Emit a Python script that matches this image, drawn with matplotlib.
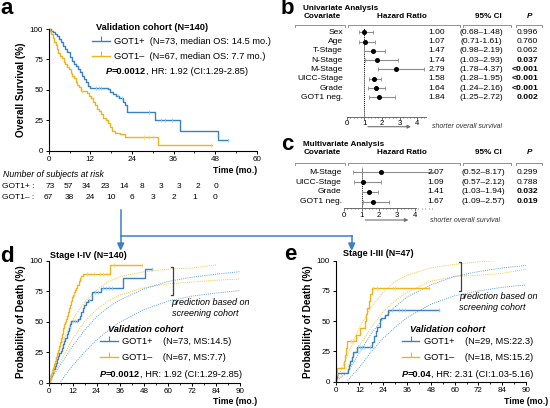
import numpy as np
import matplotlib
matplotlib.use("Agg")
import matplotlib.pyplot as plt
from matplotlib.lines import Line2D
from matplotlib.ticker import MultipleLocator

plt.rcParams['font.family'] = ['Liberation Sans', 'DejaVu Sans']

W, H = 550, 408
BLUE = '#3a80c3'
YEL = '#f0b31c'
LBLUE = '#8fd0f2'
LYEL = '#f7d46a'
PBLUE = '#5aa2d8'
PYEL = '#f3c43c'
GREY = '#808080'

# ---------------- panel a: overall survival (%) ----------------
a_pos_t = [0, 0.6, 1.2, 1.8, 2.4, 3.0, 3.6, 4.2, 4.8, 5.4, 6.0, 6.6, 7.2, 7.8, 8.4, 9.0,
           9.6, 10.2, 10.8, 11.4, 12.0, 17.0, 17.7, 18.6, 19.5, 20.4, 21.3, 22.0, 22.7,
           30.7, 37.9, 48.9]
a_pos_s = [100, 98.6, 97.3, 95.9, 94.5, 91.8, 89.0, 86.3, 83.6, 80.8, 76.7, 74.0, 71.2,
           69.9, 67.1, 64.4, 61.6, 58.9, 56.2, 53.4, 51.8, 50.3, 48.5, 46.8, 45.0, 43.2,
           40.3, 37.6, 31.6, 25.5, 16.4, 8.5]
a_pos_end = 51.8
a_pos_cens = [13.6, 14.4, 15.2, 20.0, 21.0, 29.0, 32.5, 33.5, 35.5, 51.8]

a_neg_t = [0, 0.4, 0.8, 1.2, 1.6, 2.0, 2.4, 2.8, 3.3, 3.8, 4.3, 4.8, 5.3, 5.8, 6.3, 6.8,
           7.3, 7.8, 8.3, 8.8, 9.3, 11.0, 11.6, 12.2, 12.8, 13.4, 14.0, 14.6, 15.2, 15.8,
           16.4, 17.0, 17.6, 18.2, 19.2, 20.6, 22.0, 31.5]
a_neg_s = [100, 98.5, 95.5, 92.5, 89.6, 86.6, 83.6, 80.6, 77.6, 76.1, 73.1, 71.6, 68.7,
           67.2, 64.2, 61.2, 59.7, 56.7, 53.7, 52.2, 49.2, 47.7, 44.8, 43.3, 40.3, 37.3,
           34.3, 32.8, 29.8, 26.9, 25.4, 22.4, 19.4, 16.4, 14.9, 13.4, 11.5, 4.5]
a_neg_end = 47.0
a_neg_cens = [9.5, 27.5, 29.0, 30.0, 46.8]

risk_pos = [73, 57, 34, 23, 14, 8, 3, 3, 2, 0]
risk_neg = [67, 38, 24, 10, 6, 3, 2, 1, 0]

# ---------------- panel d: stage I-IV, probability of death (%) ----------------
d_pos_t = [0, 0.6, 1.2, 1.8, 2.4, 3.0, 3.6, 4.2, 4.8, 5.4, 6.0, 6.6, 7.2, 7.8, 8.4, 9.0,
           9.6, 10.2, 10.8, 11.4, 14.7, 15.5, 16.3, 17.1, 17.9, 18.7, 19.5, 21.5, 26.0,
           37.3, 48.2]
d_pos_v = [0, 2.7, 5.4, 8.2, 11.0, 13.7, 16.4, 19.2, 21.9, 24.7, 26.0, 28.8, 31.5, 34.2,
           37.0, 39.7, 42.5, 45.2, 47.9, 50.5, 52.0, 55.0, 58.0, 61.0, 63.5, 66.0, 68.0,
           74.6, 78.0, 85.6, 93.0]
d_pos_end = 51.7
d_pos_cens = [10.5, 12.0, 13.0, 14.0, 20.0, 23.0, 24.5, 27.5, 29.0, 30.5, 32.0, 51.7]

d_neg_t = [0, 0.5, 1.0, 1.5, 2.0, 2.5, 3.0, 3.5, 4.0, 4.5, 5.0, 5.5, 6.0, 6.5, 7.0, 7.5,
           8.0, 8.5, 9.0, 9.5, 10.0, 10.5, 11.0, 11.5, 12.0, 12.6, 13.2, 13.8, 14.4, 15.0,
           15.6, 16.4, 17.3, 31.0]
d_neg_v = [0, 3, 6, 9, 12, 15, 18, 21, 24, 27, 30, 33, 37, 40, 45, 48, 50, 52, 55, 58, 61,
           64, 67, 70, 72, 74, 76, 78, 80, 83, 86, 87.5, 89, 96.5]
d_neg_end = 47.0
d_neg_cens = [12.5, 16.0, 19.0, 22.5, 25.5, 27.5, 29.5, 33.0, 47.0]

pred_t = [0, 6, 12, 18, 24, 30, 36, 48, 60, 72, 84, 96]
d_yel_hi = [0, 30, 52, 66, 76, 83, 87, 91, 93, 94, 96.5, np.nan]
d_yel_lo = [0, 18, 36, 50, 60, 67, 72, 78, 81, 82.5, 84, 85]
d_blu_hi = [0, 15, 30, 43, 54, 62, 68, 77, 83, 86.5, 89, 91]
d_blu_lo = [np.nan, 1, 14, 25, 35, 43, 50, 60, 67, 71, 73.5, 75.5]

# ---------------- panel e: stage I-III ----------------
e_pos_t = [0, 0.4, 0.8, 6.2, 6.8, 7.4, 8.0, 8.6, 10.8, 18.5, 19.3, 20.2, 21.0, 22.3, 23.0,
           25.0, 26.2]
e_pos_v = [0, 3.4, 6.9, 10.3, 13.8, 17.2, 20.7, 24.7, 28.9, 33.2, 37.5, 41.7, 45.6, 51.5,
           52.5, 55.5, 59.3]
e_pos_end = 52.0
e_pos_cens = [11.5, 12.5, 13.5, 14.5, 17.5, 28.5, 32.0, 33.5, 35.0, 52.0]

e_neg_t = [0, 0.3, 0.8, 4.0, 4.6, 5.2, 5.8, 10.0, 12.4, 14.8, 15.5, 16.0, 16.6, 17.4, 18.2]
e_neg_v = [0, 5.6, 11.1, 16.7, 22.2, 27.8, 33.3, 38.9, 44.4, 50.0, 55.6, 61.1, 66.7, 72.2,
           77.8]
e_neg_end = 47.2
e_neg_cens = [7.5, 8.5, 19.0, 21.0, 29.0, 30.0, 47.2]

e_yel_hi = [0, 22, 45, 62, 74, 83, 88, 94, 97, 99, 100.5, np.nan]
e_yel_lo = [0, 12, 30, 45, 58, 67, 74, 83, 87, 88, 89.5, 93]
e_blu_hi = [0, 8, 24, 40, 52, 62, 70, 80, 87, 91, 94, 96]
e_blu_lo = [np.nan, 1, 12, 25, 36, 45, 53, 64, 71, 75, 78, 80]

# ---------------- panels b and c: Cox regression ----------------
uni_cov = ['Sex', 'Age', 'T-Stage', 'N-Stage', 'M-Stage', 'UICC-Stage', 'Grade', 'GOT1 neg.']
uni_hr = [1.00, 1.07, 1.47, 1.74, 2.79, 1.58, 1.64, 1.84]
uni_lo = [0.68, 0.71, 0.98, 1.03, 1.78, 1.28, 1.24, 1.25]
uni_hi = [1.48, 1.61, 2.19, 2.93, 4.37, 1.95, 2.16, 2.72]
uni_ci = ['(0.68–1.48)', '(0.71-1.61)', '(0.98–2.19)', '(1.03–2.93)', '(1.78–4.37)',
          '(1.28–1.95)', '(1.24–2.16)', '(1.25–2.72)']
uni_p = ['0.996', '0.760', '0.062', '0.037', '<0.001', '<0.001', '<0.001', '0.002']

multi_cov = ['M-Stage', 'UICC-Stage', 'Grade', 'GOT1 neg.']
multi_hr = [2.07, 1.09, 1.41, 1.67]
multi_lo = [0.52, 0.57, 1.03, 1.09]
multi_hi = [8.17, 2.12, 1.94, 2.57]
multi_ci = ['(0.52–8.17)', '(0.57–2.12)', '(1.03–1.94)', '(1.09–2.57)']
multi_p = ['0.299', '0.788', '0.032', '0.019']


fig = plt.figure(figsize=(W / 100, H / 100), dpi=100)
renderer = fig.canvas.get_renderer()


def px_rect(x0, y0, x1, y1):
    return [x0 / W, 1 - y1 / H, (x1 - x0) / W, (y1 - y0) / H]


def ftext(x, y, s, **kw):
    kw.setdefault('va', 'center')
    return fig.text(x / W, 1 - y / H, s, **kw)


def chain(x, y, parts, size):
    # pieces of one line in different weights, placed one after another
    for s, kw in parts:
        t = ftext(x, y, s, fontsize=size, va='baseline', ha='left', **kw)
        x += t.get_window_extent(renderer).width * 100 / fig.dpi


def fline(xs, ys, **kw):
    fig.add_artist(Line2D([x / W for x in xs], [1 - y / H for y in ys],
                          transform=fig.transFigure, **kw))


def km_axes(rect, xmax, labels, ylabel):
    ax = fig.add_axes(rect)
    ax.set_xlim(0, xmax)
    ax.set_ylim(0, 100)
    for sp in ['top', 'right']:
        ax.spines[sp].set_visible(False)
    for sp in ['left', 'bottom']:
        ax.spines[sp].set_linewidth(0.8)
    ax.set_xticks(np.arange(0, xmax + 1, 12))
    ax.set_xticklabels(labels)
    ax.xaxis.set_minor_locator(MultipleLocator(6))
    ax.set_yticks([0, 25, 50, 75, 100])
    ax.tick_params(labelsize=5.8, length=2.5, width=0.7, pad=1.5)
    ax.tick_params(which='minor', length=1.5, width=0.6)
    ax.set_ylabel(ylabel, fontsize=7.2, fontweight='bold', labelpad=3)
    ax.patch.set_alpha(0)
    return ax


def km(ax, t, v, t_end, cens, color, ccolor):
    ax.step(np.append(t, t_end), np.append(v, v[-1]), where='post', color=color, lw=1.0,
            clip_on=False)
    idx = np.searchsorted(t, cens, side='right') - 1
    ax.plot(cens, np.asarray(v)[idx], ls='none', marker='|', ms=3.2, mew=0.6, color=ccolor,
            clip_on=False)


def pred(ax, vals, color):
    ax.plot(pred_t, vals, ls=(0, (1, 1.2)), lw=0.7, color=color)


def km_legend(ax, x, y, labels, spacing):
    hs = [Line2D([], [], color=BLUE, lw=1.0, marker=2, ms=3.5, mew=0.8),
          Line2D([], [], color=YEL, lw=1.0, marker=2, ms=3.5, mew=0.8)]
    ax.legend(hs, labels, loc='upper left', bbox_to_anchor=(x / W, 1 - y / H),
              bbox_transform=fig.transFigure, frameon=False, fontsize=6.7,
              handlelength=1.9, handletextpad=0.45, borderpad=0, borderaxespad=0,
              labelspacing=spacing, numpoints=1)


P_BOLD = dict(fontweight='bold', fontstyle='italic')

# ---- panel a ----
ax_a = km_axes(px_rect(48.7, 29, 256.7, 150.7), 60, [str(v) for v in range(0, 61, 12)],
               'Overall Survival (%)')
km(ax_a, a_pos_t, a_pos_s, a_pos_end, a_pos_cens, BLUE, LBLUE)
km(ax_a, a_neg_t, a_neg_s, a_neg_end, a_neg_cens, YEL, LYEL)
ftext(0, 9, 'a', fontsize=16, fontweight='bold', ha='left')
ftext(96, 28, 'Validation cohort (N=140)', fontsize=6.7, fontweight='bold', ha='left')
km_legend(ax_a, 92, 37, ['GOT1+  (N=73, median OS: 14.5 mo.)',
                         'GOT1–  (N=67, median OS: 7.7 mo.)'], 0.68)
chain(106, 74, [('P', P_BOLD), ('=0.0012', dict(fontweight='bold')),
                (', HR: 1.92 (CI:1.29-2.85)', {})], 6.7)
ftext(257, 170, 'Time (mo.)', fontsize=6.3, fontweight='bold', ha='right')
ftext(3, 174, 'Number of subjects at risk', fontsize=6.3, fontstyle='italic', ha='left')
ftext(2, 186.7, 'GOT1+ :', fontsize=6, ha='left')
ftext(2, 197.3, 'GOT1– :', fontsize=6, ha='left')
for tx, n in zip(np.linspace(0, 48, len(risk_pos)), risk_pos):
    ftext(48.7 + tx * 3.467 + 1, 186.7, str(n), fontsize=6, ha='center')
for tx, n in zip(np.linspace(0, 48, len(risk_neg)), risk_neg):
    ftext(48.7 + tx * 3.467, 197.3, str(n), fontsize=6, ha='center')

# ---- arrows between panels ----
fline([120.7, 120.7], [210, 244], color=BLUE, lw=1.1)
fline([120.7, 351.7], [235.7, 235.7], color=BLUE, lw=1.1)
fline([351.7, 351.7], [235.7, 244], color=BLUE, lw=1.1)
for xa in [120.7, 351.7]:
    fig.add_artist(plt.Polygon([[(xa - 3) / W, 1 - 243 / H], [(xa + 3) / W, 1 - 243 / H],
                                [xa / W, 1 - 249.5 / H]], closed=True, color=BLUE,
                               transform=fig.transFigure))

tick_lab = [str(v) for v in range(0, 85, 12)] + ['90']

# ---- panel d ----
ax_d = km_axes(px_rect(48.7, 260.7, 240, 382.7), 96, tick_lab, 'Probability of Death (%)')
pred(ax_d, d_yel_hi, PYEL)
pred(ax_d, d_yel_lo, PYEL)
pred(ax_d, d_blu_hi, PBLUE)
pred(ax_d, d_blu_lo, PBLUE)
km(ax_d, d_pos_t, d_pos_v, d_pos_end, d_pos_cens, BLUE, LBLUE)
km(ax_d, d_neg_t, d_neg_v, d_neg_end, d_neg_cens, YEL, LYEL)
ftext(0, 257, 'd', fontsize=16, fontweight='bold', ha='left')
ftext(50, 255, 'Stage I-IV (N=140)', fontsize=6.5, fontweight='bold', ha='left')
ftext(257, 402, 'Time (mo.)', fontsize=6.3, fontweight='bold', ha='right')

# ---- panel e ----
ax_e = km_axes(px_rect(335.7, 260.7, 526, 381.7), 96, tick_lab, 'Probability of Death (%)')
pred(ax_e, e_yel_hi, PYEL)
pred(ax_e, e_yel_lo, PYEL)
pred(ax_e, e_blu_hi, PBLUE)
pred(ax_e, e_blu_lo, PBLUE)
km(ax_e, e_pos_t, e_pos_v, e_pos_end, e_pos_cens, BLUE, LBLUE)
km(ax_e, e_neg_t, e_neg_v, e_neg_end, e_neg_cens, YEL, LYEL)
ftext(284, 255, 'e', fontsize=16, fontweight='bold', ha='left')
ftext(343, 254, 'Stage I-III (N=47)', fontsize=6.5, fontweight='bold', ha='left')
ftext(548, 402, 'Time (mo.)', fontsize=6.3, fontweight='bold', ha='right')

for ax, bx, by0, by1, tx, ty, leg_x, labs, ptxt in [
        (ax_d, 172.7, 266.7, 295, 171.7, 302.7, 100,
         ['GOT1+    (N=73, MS:14.5)', 'GOT1–    (N=67, MS:7.7)'],
         [('P', P_BOLD), ('=0.0012', dict(fontweight='bold')), (', HR: 1.92 (CI:1.29-2.85)', {})]),
        (ax_e, 460.7, 261.5, 290.7, 459, 296.7, 401.7,
         ['GOT1+    (N=29, MS:22.3)', 'GOT1–    (N=18, MS:15.2)'],
         [('P', P_BOLD), ('=0.04', dict(fontweight='bold')), (', HR: 2.31 (CI:1.03-5.16)', {})])]:
    fline([bx - 2, bx, bx, bx - 2], [by0, by0, by1, by1], color='#404040', lw=0.9)
    ftext(tx, ty, 'prediction based on', fontsize=6.5, fontstyle='italic', ha='left')
    ftext(tx, ty + 10.8, 'screening cohort', fontsize=6.5, fontstyle='italic', ha='left')
    ftext(leg_x + 8, 329, 'Validation cohort', fontsize=6.7, fontweight='bold',
          fontstyle='italic', ha='left')
    km_legend(ax, leg_x, 337.5, labs, 0.68)
    chain(leg_x, 377, ptxt, 6.7)


# ---------------- forest plots ----------------
def bracket(x0, x1, y):
    fline([x0, x0, x1, x1], [y + 2, y, y, y + 2], color=GREY, lw=0.6)


def forest(cov, hr, lo, hi, ci, p, row0, step, x_zero, top_y, axis_y, axis_max, xmax,
           lab_x, hr_x, ci_x, p_x, arrow_y, head_y, br_y, title, title_y, letter_y):
    unit = 17.7
    rows = row0 + step * np.arange(len(cov))
    ax = fig.add_axes(px_rect(x_zero, top_y, x_zero + xmax * unit, axis_y))
    ax.set_xlim(0, xmax)
    ax.set_ylim(axis_y, top_y)
    ax.patch.set_alpha(0)
    for sp in ['top', 'right', 'left']:
        ax.spines[sp].set_visible(False)
    ax.spines['bottom'].set_bounds(0, axis_max)
    ax.spines['bottom'].set_linewidth(0.6)
    ax.spines['bottom'].set_color('#555555')
    ax.set_yticks([])
    ax.set_xticks([0, 1, 2, 3, 4])
    ax.xaxis.set_minor_locator(MultipleLocator(0.2))
    ax.tick_params(labelsize=5.6, length=1.8, width=0.6, pad=0.8, color='#555555')
    ax.tick_params(which='minor', length=1.0, width=0.5, color='#555555')
    ax.axvline(1, color='black', lw=0.7, ls=(0, (1, 1)))
    hr = np.asarray(hr)
    ax.errorbar(hr, rows, xerr=[hr - np.asarray(lo), np.asarray(hi) - hr], fmt='o', ms=2.6,
                color='black', ecolor='#8c8c8c', elinewidth=0.8, capsize=1.3, capthick=0.6)
    ax.annotate('', xy=(3.8, arrow_y), xytext=(1.05, arrow_y), xycoords='data',
                arrowprops=dict(arrowstyle='-|>', color='#707070', lw=0.8, mutation_scale=5),
                annotation_clip=False)
    ftext(x_zero + 4.85 * unit, arrow_y, 'shorter overall survival', fontsize=5,
          fontstyle='italic', ha='left', color='#333333')
    for y, c, h, cc, pp in zip(rows, cov, hr, ci, p):
        ftext(lab_x, y, c, fontsize=6.1, ha='right')
        ftext(hr_x, y, '%.2f' % h, fontsize=6.1, ha='right')
        ftext(ci_x, y, cc, fontsize=6.1, ha='center')
        sig = pp.startswith('<') or float(pp) < 0.05
        ftext(p_x, y, pp, fontsize=6.1, ha='right', fontweight='bold' if sig else 'normal')
    ftext(281, letter_y, title[0], fontsize=16, fontweight='bold', ha='left')
    ftext(303, title_y, title[1], fontsize=5.9, fontweight='bold', ha='left')
    ftext(322, head_y, 'Covariate', fontsize=5.9, fontweight='bold', ha='center')
    ftext(402, head_y, 'Hazard Ratio', fontsize=5.9, fontweight='bold', ha='center')
    ftext(488, head_y, '95% CI', fontsize=5.9, fontweight='bold', ha='center')
    ftext(530, head_y, 'P', fontsize=5.9, fontweight='bold', fontstyle='italic', ha='center')
    bracket(295, 345, br_y)
    bracket(348, 460, br_y)
    bracket(463, 511, br_y)
    bracket(516, 542, br_y)
    return ax


forest(uni_cov, uni_hr, uni_lo, uni_hi, uni_ci, uni_p, 32.3, 9.29, 346.5, 27.5, 116.7,
       4.5, 4.55, 343, 445, 481.5, 538, 126.7, 16.5, 25, ('b', 'Univariate Analysis'),
       8.5, 9)
forest(multi_cov, multi_hr, multi_lo, multi_hi, multi_ci, multi_p, 172.3, 9.8, 343.9, 167,
       208.3, 4.1, 5.15, 341.7, 444, 483, 538, 220, 152.7, 162.7,
       ('c', 'Multivariate Analysis'), 144, 145)

fig.savefig('out.png', dpi=100)
